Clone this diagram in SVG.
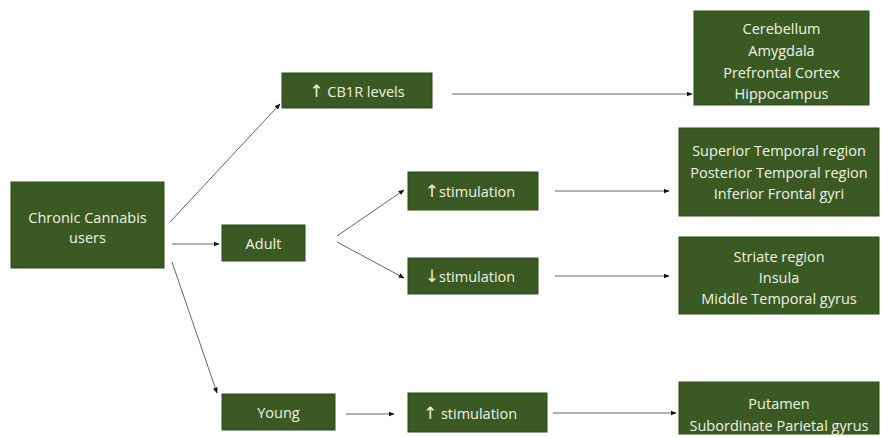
<svg xmlns="http://www.w3.org/2000/svg" width="881" height="437" viewBox="0 0 881 437">
  <style>
    .box { fill: #3b5a23; stroke: #2f4a1c; stroke-width: 1; }
    .lbl { font-family: "Open Sans", "Liberation Sans", sans-serif; font-size: 14.5px; fill: #eef2e4; text-anchor: middle; dominant-baseline: central; }
    .arw { font-family: "DejaVu Sans", sans-serif; font-size: 17px; }
    .edge { stroke: #666666; stroke-width: 1; fill: none; marker-end: url(#head); }
  </style>
  <defs>
    <marker id="head" viewBox="0 0 10 10" refX="9" refY="5" markerWidth="6" markerHeight="6" orient="auto" markerUnits="userSpaceOnUse">
      <path d="M0,1 L10,5 L0,9 z" fill="#111"/>
    </marker>
  </defs>
  <rect width="881" height="437" fill="#ffffff"/>

  <g id="connectors">
    <line class="edge" x1="170" y1="222" x2="280" y2="104"/>
    <line class="edge" x1="172" y1="244" x2="219" y2="244"/>
    <line class="edge" x1="172" y1="262" x2="217" y2="393"/>
    <line class="edge" x1="452" y1="94" x2="692" y2="94"/>
    <line class="edge" x1="337" y1="236" x2="404" y2="190"/>
    <line class="edge" x1="337" y1="242" x2="404" y2="278"/>
    <line class="edge" x1="555" y1="191" x2="669" y2="191"/>
    <line class="edge" x1="555" y1="276" x2="669" y2="276"/>
    <line class="edge" x1="346" y1="414" x2="394" y2="414"/>
    <line class="edge" x1="553" y1="413" x2="676" y2="413"/>
  </g>

  <g id="chronic">
    <rect class="box" x="11" y="182" width="153" height="86"/>
    <text class="lbl" x="87.5" y="217">Chronic Cannabis</text>
    <text class="lbl" x="87.5" y="237">users</text>
  </g>
  <g id="cb1r">
    <rect class="box" x="282" y="73" width="150" height="35"/>
    <text class="lbl" x="357" y="91"><tspan class="arw">↑</tspan> CB1R levels</text>
  </g>
  <g id="adult">
    <rect class="box" x="222" y="225" width="83" height="36"/>
    <text class="lbl" x="263.5" y="243">Adult</text>
  </g>
  <g id="young">
    <rect class="box" x="222" y="394" width="113" height="36"/>
    <text class="lbl" x="278.5" y="412">Young</text>
  </g>
  <g id="stim-up">
    <rect class="box" x="408" y="172" width="130" height="38"/>
    <text class="lbl" x="470" y="191"><tspan class="arw">↑</tspan>stimulation</text>
  </g>
  <g id="stim-down">
    <rect class="box" x="408" y="258" width="130" height="36"/>
    <text class="lbl" x="470" y="276"><tspan class="arw">↓</tspan>stimulation</text>
  </g>
  <g id="stim-young">
    <rect class="box" x="408" y="393" width="139" height="39"/>
    <text class="lbl" x="470" y="413"><tspan class="arw">↑</tspan> stimulation</text>
  </g>
  <g id="regions-cb1r">
    <rect class="box" x="694" y="11" width="175" height="94"/>
    <text class="lbl" x="781.5" y="28">Cerebellum</text>
    <text class="lbl" x="781.5" y="50">Amygdala</text>
    <text class="lbl" x="781.5" y="72">Prefrontal Cortex</text>
    <text class="lbl" x="781.5" y="93">Hippocampus</text>
  </g>
  <g id="regions-up">
    <rect class="box" x="679" y="128" width="200" height="88"/>
    <text class="lbl" x="779" y="150">Superior Temporal region</text>
    <text class="lbl" x="779" y="172">Posterior Temporal region</text>
    <text class="lbl" x="779" y="193">Inferior Frontal gyri</text>
  </g>
  <g id="regions-down">
    <rect class="box" x="679" y="237" width="200" height="77"/>
    <text class="lbl" x="779" y="256">Striate region</text>
    <text class="lbl" x="779" y="277">Insula</text>
    <text class="lbl" x="779" y="298">Middle Temporal gyrus</text>
  </g>
  <g id="regions-young">
    <rect class="box" x="679" y="382" width="200" height="52"/>
    <text class="lbl" x="779" y="403">Putamen</text>
    <text class="lbl" x="779" y="425">Subordinate Parietal gyrus</text>
  </g>
</svg>
